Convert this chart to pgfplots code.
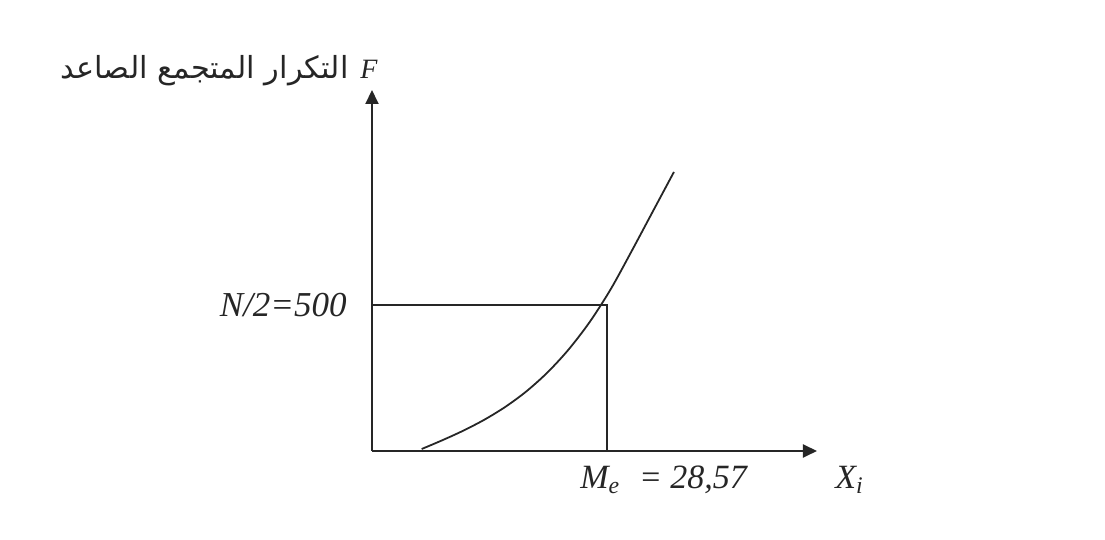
\documentclass[border=0pt]{standalone}
\usepackage{fontspec}
\setmainfont{Liberation Serif}
\newfontfamily\arabicfont[Script=Arabic]{DejaVu Sans}
\TeXXeTstate=1
\usepackage{pgfplots}
\pgfplotsset{compat=1.18}
\usetikzlibrary{arrows.meta}

% ogive (cumulative frequency, "less than") and the median read off it
\pgfplotstableread{
x      F
6.04   6.8
8.60   37.4
11.15  70.3
13.70  107.7
16.25  151.8
18.81  205.1
21.36  269.6
23.91  347.7
26.47  441.8
29.02  553.8
31.57  684.5
34.12  819.0
36.71  955.4
}\ogive

\begin{document}
\begin{tikzpicture}
\begin{axis}[
  at={(0,0)}, anchor=origin,
  scale only axis,
  width=222.5pt, height=180.5pt,
  xmin=0, xmax=54.1,
  ymin=0, ymax=1236,
  axis x line=bottom, axis y line=left,
  axis line style={line width=1pt, black!85, -{Triangle[length=7pt,width=6.5pt]}},
  xtick=\empty, ytick=\empty,
  clip=false,
]
  % the curve
  \addplot[black!85, line width=0.9pt, smooth] table[x=x, y=F] {\ogive};
  % median construction: N/2 = 500 across, down to Me = 28.57
  \addplot[black!85, line width=1pt] coordinates {(0,500) (28.57,500) (28.57,0)};

  \node[anchor=east, inner sep=0pt, font=\fontsize{17.5}{20}\selectfont\itshape, black!85]
    at (axis cs:0,500) [xshift=-12.5pt] {N/2=500};
  \node[anchor=base west, inner sep=0pt, font=\fontsize{17}{20}\selectfont\itshape, black!85]
    at (axis cs:25.29,-126.7) {M\textsubscript{e}\hspace{0.55em}=\hspace{0.25em}28,57};
  \node[anchor=base west, inner sep=0pt, font=\fontsize{17}{20}\selectfont\itshape, black!85]
    at (axis cs:56.29,-126.7) {X\textsubscript{i}};
  \node[anchor=base east, inner sep=0pt, black!85]
    at (axis cs:0.73,1277)
    {{\arabicfont\fontsize{15.2}{18}\selectfont\beginR التكرار المتجمع الصاعد\endR}\hspace{6pt}{\fontsize{14}{16}\selectfont\itshape F}};
\end{axis}
\path[use as bounding box] (-186pt,-44.5pt) rectangle ++(552.5pt,270pt);
\end{tikzpicture}
\end{document}
